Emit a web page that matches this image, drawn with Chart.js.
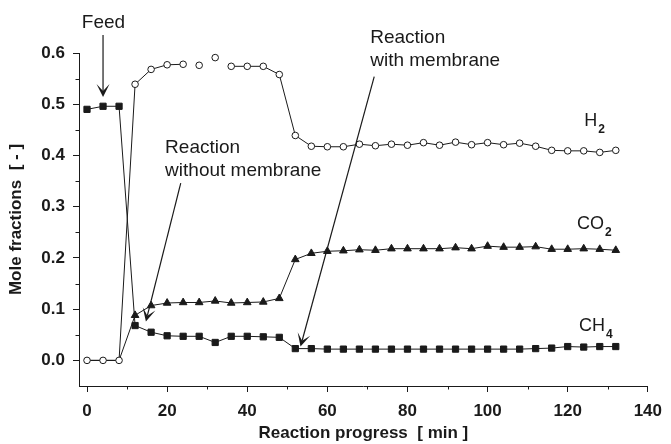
<!DOCTYPE html>
<html>
<head>
<meta charset="UTF-8">
<title>moleFractions</title>
<script src="https://cdn.jsdelivr.net/npm/chart.js"></script>
<style>
  html, body { margin: 0; padding: 0; background: #fff; }
</style>
</head>
<body>
<canvas id="fractionChart" width="671" height="444"></canvas>
<script>
// sampling times [min]
const minutes = [0, 4, 8, 12, 16, 20, 24, 28, 32, 36, 40, 44, 48, 52, 56, 60, 64, 68, 72, 76,
                 80, 84, 88, 92, 96, 100, 104, 108, 112, 116, 120, 124, 128, 132];

const h2 = [0, 0, 0, 0.539, 0.568, 0.577, 0.578, 0.576, 0.591, 0.574, 0.574, 0.574, 0.558,
            0.439, 0.418, 0.417, 0.417, 0.422, 0.419, 0.422, 0.420, 0.425, 0.420, 0.426, 0.421,
            0.425, 0.421, 0.424, 0.418, 0.410, 0.409, 0.409, 0.406, 0.410];

const co2 = [0, 0, 0, 0.088, 0.107, 0.112, 0.113, 0.113, 0.116, 0.112, 0.113, 0.114, 0.121,
             0.197, 0.209, 0.213, 0.214, 0.216, 0.215, 0.218, 0.218, 0.218, 0.218, 0.220, 0.218,
             0.223, 0.221, 0.221, 0.222, 0.217, 0.217, 0.218, 0.217, 0.215];

const ch4 = [0.490, 0.496, 0.496, 0.068, 0.055, 0.048, 0.047, 0.047, 0.035, 0.047, 0.047, 0.046, 0.045,
             0.023, 0.023, 0.022, 0.022, 0.022, 0.022, 0.022, 0.022, 0.022, 0.022, 0.022, 0.022,
             0.022, 0.022, 0.022, 0.023, 0.024, 0.027, 0.026, 0.027, 0.027];

// H2 segments starting at these times have no connecting line in the original
const h2Breaks = [24, 28, 32];

const xTicks = [0, 20, 40, 60, 80, 100, 120, 140];
const xMinor = [10, 30, 50, 70, 90, 110, 130];
const yTicks = [0, 0.1, 0.2, 0.3, 0.4, 0.5, 0.6];
const yMinor = [0.05, 0.15, 0.25, 0.35, 0.45, 0.55];

const ink = '#1a1a1a';
const fontFam = '"Liberation Sans", Arial, sans-serif';

// text notes and arrows, placed in data units
const notes = [
    { lines: ['Feed'], x: 4.1, y: 0.649, align: 'center' },
    { lines: ['Reaction', 'without membrane'], x: 19.5, y: 0.405, align: 'left' },
    { lines: ['Reaction', 'with membrane'], x: 70.7, y: 0.620, align: 'left' }
];
const arrows = [
    { from: [4, 0.635], to: [4, 0.514] },
    { from: [23.4, 0.346], to: [14.7, 0.076] },
    { from: [71.7, 0.554], to: [53.3, 0.027] }
];
const species = [
    { main: 'H', sub: '2', x: 124.1, y: 0.457 },
    { main: 'CO', sub: '2', x: 122.3, y: 0.256 },
    { main: 'CH', sub: '4', x: 122.8, y: 0.057 }
];

function pts(vals) {
    return minutes.map((t, i) => ({ x: t, y: vals[i] }));
}

function drawArrow(ctx, x1, y1, x2, y2) {
    const a = Math.atan2(y2 - y1, x2 - x1);
    const c = Math.cos(a), s = Math.sin(a);
    ctx.beginPath();
    ctx.moveTo(x1, y1);
    ctx.lineTo(x2 - c * 6, y2 - s * 6);
    ctx.stroke();
    const L = 13, W = 6.5, N = 6;
    ctx.beginPath();
    ctx.moveTo(x2, y2);
    ctx.lineTo(x2 - L * c + W * s, y2 - L * s - W * c);
    ctx.lineTo(x2 - N * c, y2 - N * s);
    ctx.lineTo(x2 - L * c - W * s, y2 - L * s + W * c);
    ctx.closePath();
    ctx.fill();
}

const decor = {
    id: 'decor',
    afterDraw(chart) {
        const ctx = chart.ctx;
        const xs = chart.scales.x, ys = chart.scales.y;
        const area = chart.chartArea;
        ctx.save();
        ctx.strokeStyle = ink;
        ctx.fillStyle = ink;
        ctx.lineWidth = 1;

        // minor ticks
        ctx.beginPath();
        xMinor.forEach(v => {
            const px = Math.round(xs.getPixelForValue(v)) + 0.5;
            ctx.moveTo(px, area.bottom);
            ctx.lineTo(px, area.bottom + 3.5);
        });
        yMinor.forEach(v => {
            const py = Math.round(ys.getPixelForValue(v)) + 0.5;
            ctx.moveTo(area.left, py);
            ctx.lineTo(area.left - 3.5, py);
        });
        ctx.stroke();

        // arrows
        ctx.lineWidth = 1.2;
        arrows.forEach(a => {
            drawArrow(ctx,
                xs.getPixelForValue(a.from[0]), ys.getPixelForValue(a.from[1]),
                xs.getPixelForValue(a.to[0]), ys.getPixelForValue(a.to[1]));
        });

        // notes
        ctx.font = '19px ' + fontFam;
        ctx.textBaseline = 'alphabetic';
        notes.forEach(n => {
            ctx.textAlign = n.align;
            const px = xs.getPixelForValue(n.x);
            const py = ys.getPixelForValue(n.y);
            n.lines.forEach((ln, i) => ctx.fillText(ln, px, py + i * 23));
        });

        // species labels with subscripts
        ctx.textAlign = 'left';
        species.forEach(sp => {
            const px = xs.getPixelForValue(sp.x);
            const py = ys.getPixelForValue(sp.y);
            ctx.font = '18px ' + fontFam;
            ctx.fillText(sp.main, px, py);
            const w = ctx.measureText(sp.main).width;
            ctx.font = 'bold 12px ' + fontFam;
            ctx.fillText(sp.sub, px + w + 1, py + 7);
        });
        ctx.restore();
    }
};

const ctx = document.getElementById('fractionChart').getContext('2d');
new Chart(ctx, {
    type: 'line',
    data: {
        datasets: [
            {
                label: 'H2',
                data: pts(h2),
                borderColor: ink,
                borderWidth: 1,
                pointStyle: 'circle',
                pointRadius: 3.3,
                pointBackgroundColor: '#fff',
                pointBorderColor: ink,
                pointBorderWidth: 1,
                segment: {
                    borderColor: c => h2Breaks.includes(minutes[c.p0DataIndex]) ? 'rgba(0,0,0,0)' : ink
                }
            },
            {
                label: 'CO2',
                data: pts(co2),
                borderColor: ink,
                borderWidth: 1,
                pointStyle: 'triangle',
                pointRadius: c => co2[c.dataIndex] === 0 ? 0 : 4.4,
                pointBackgroundColor: ink,
                pointBorderColor: ink,
                pointBorderWidth: 1
            },
            {
                label: 'CH4',
                data: pts(ch4),
                borderColor: ink,
                borderWidth: 1,
                pointStyle: 'rect',
                pointRadius: 4.4,
                pointBackgroundColor: ink,
                pointBorderColor: ink,
                pointBorderWidth: 1
            }
        ]
    },
    options: {
        responsive: false,
        animation: false,
        clip: false,
        layout: { padding: { top: 53, right: 18, left: 0, bottom: 0 } },
        plugins: {
            legend: { display: false },
            tooltip: { enabled: false }
        },
        elements: { line: { tension: 0 } },
        scales: {
            x: {
                type: 'linear',
                min: -2,
                max: 140,
                afterBuildTicks: s => { s.ticks = xTicks.map(v => ({ value: v })); },
                afterFit: s => { s.height = 58; },
                border: { display: true, color: ink, width: 1 },
                grid: { display: true, drawOnChartArea: false, drawTicks: true, tickLength: 6, color: ink },
                ticks: {
                    color: ink,
                    padding: 9,
                    maxRotation: 0,
                    font: { family: fontFam, size: 17, weight: 'bold' }
                },
                title: {
                    display: true,
                    text: 'Reaction progress  [ min ]',
                    color: ink,
                    padding: { top: 0, bottom: 0 },
                    font: { family: fontFam, size: 17, weight: 'bold' }
                }
            },
            y: {
                min: -0.05,
                max: 0.6,
                afterBuildTicks: s => { s.ticks = yTicks.map(v => ({ value: v })); },
                afterFit: s => { s.width = 79; },
                border: { display: true, color: ink, width: 1 },
                grid: { display: true, drawOnChartArea: false, drawTicks: true, tickLength: 6, color: ink },
                ticks: {
                    color: ink,
                    padding: 8,
                    callback: v => v.toFixed(1),
                    font: { family: fontFam, size: 17, weight: 'bold' }
                },
                title: {
                    display: true,
                    text: 'Mole fractions  [ - ]',
                    color: ink,
                    padding: { top: 6, bottom: 4 },
                    font: { family: fontFam, size: 17, weight: 'bold' }
                }
            }
        }
    },
    plugins: [decor]
});
</script>
</body>
</html>
